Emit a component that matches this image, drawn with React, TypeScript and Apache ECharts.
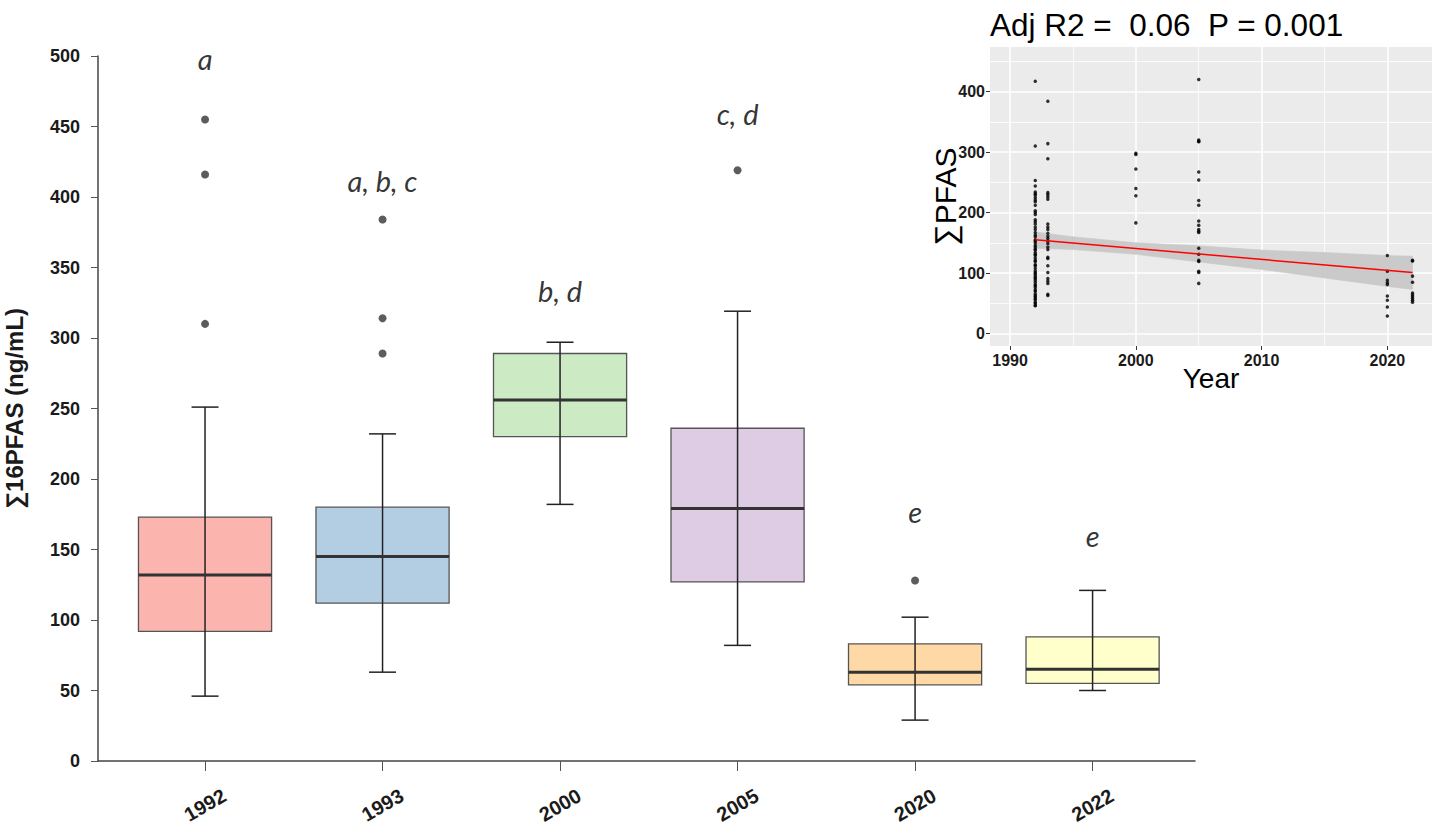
import React, { useEffect, useRef } from "react";
import * as echarts from "echarts";

// ---------- main box plot data ----------
const years = ["1992", "1993", "2000", "2005", "2020", "2022"];
const boxLow = [46, 63, 182, 82, 29, 50];
const boxQ1 = [92, 112, 230, 127, 54, 55];
const boxMedian = [132, 145, 256, 179, 63, 65];
const boxQ3 = [173, 180, 289, 236, 83, 88];
const boxHigh = [251, 232, 297, 319, 102, 121];
const boxColors = ["#FBB4AE", "#B3CDE3", "#CCEBC5", "#DECBE4", "#FED9A6", "#FFFFCC"];
const outlierGroup = [0, 0, 0, 1, 1, 1, 3, 4];
const outlierValue = [455, 416, 310, 384, 314, 289, 419, 128];
const letterText = ["a", "a, b, c", "b, d", "c, d", "e", "e"];
const letterY = [498, 412, 334, 459, 177, 160];
const mainTickIdx = [0, 1, 2, 3, 4, 5];

// ---------- inset scatter data ----------
const p1992 = [417, 310, 253, 244, 234, 231, 229, 225, 221, 218, 212, 203, 200, 197, 188, 185, 181, 176, 172, 167, 163, 160, 155, 153, 150, 146, 143, 140, 138, 134, 131, 129, 125, 121, 119, 114, 112, 108, 104, 101, 99, 96, 93, 91, 88, 85, 81, 79, 76, 72, 70, 66, 63, 61, 58, 56, 52, 50, 47, 46];
const p1993 = [384, 314, 289, 233, 230, 226, 222, 181, 176, 172, 166, 161, 157, 153, 149, 143, 139, 126, 124, 112, 101, 91, 87, 83, 65, 63];
const p2000 = [298, 296, 272, 240, 228, 183];
const p2005 = [420, 320, 318, 317, 267, 254, 220, 212, 186, 179, 172, 169, 167, 141, 131, 121, 119, 103, 101, 83];
const p2020 = [129, 103, 88, 84, 81, 62, 55, 44, 29];
const p2022 = [121, 120, 95, 85, 67, 64, 61, 58, 55, 52];
const insetGroups: [number, number[]][] = [
  [1992, p1992],
  [1993, p1993],
  [2000, p2000],
  [2005, p2005],
  [2020, p2020],
  [2022, p2022],
];
const fitYears = [1992, 2022];
const fitValues = [155, 101];
const bandYears = [1992, 1995, 2000, 2005, 2010, 2015, 2020, 2022];
const bandLower = [141, 139, 131, 118.5, 106, 92, 78, 73];
const bandUpper = [168, 160, 150, 145, 138, 134, 129, 128];
const insetXMajor = [1990, 2000, 2010, 2020];
const insetXMinor = [1995, 2005, 2015];
const insetYMajor = [0, 100, 200, 300, 400];
const insetYMinor = [50, 150, 250, 350, 450];

export default function App() {
  const ref = useRef<HTMLDivElement>(null);

  useEffect(() => {
    if (!ref.current) return;
    const chart = echarts.init(ref.current, undefined, { renderer: "svg" });

    const boxData = years.map((_, i) => [i, boxLow[i], boxQ1[i], boxMedian[i], boxQ3[i], boxHigh[i]]);
    const outlierData = outlierGroup.map((g, k) => [g, outlierValue[k]]);
    const letterData = letterY.map((v, i) => [i, v]);
    const scatterData: number[][] = [];
    insetGroups.forEach(([yr, vals]) => vals.forEach((v) => scatterData.push([yr, v])));
    const bandSegs = bandYears.slice(0, -1).map((y, i) => [
      y, bandLower[i], bandUpper[i], bandYears[i + 1], bandLower[i + 1], bandUpper[i + 1],
    ]);

    const boldAxisLabel = {
      fontFamily: "Liberation Sans",
      fontWeight: "bold" as const,
      color: "#1a1a1a",
    };

    chart.setOption({
      animation: false,
      backgroundColor: "#ffffff",
      grid: [
        { left: 98, right: 243, top: 56, bottom: 76, outerBoundsMode: "none", containLabel: false },
        {
          left: 990,
          right: 6,
          top: 47,
          bottom: 491,
          show: true,
          backgroundColor: "#EBEBEB",
          borderWidth: 0,
          outerBoundsMode: "none",
          containLabel: false,
        },
      ],
      xAxis: [
        {
          type: "value",
          gridIndex: 0,
          min: -0.603,
          max: 5.577,
          axisLine: { show: true, onZero: false, lineStyle: { color: "#444", width: 1.5 } },
          axisTick: { show: true, customValues: mainTickIdx, length: 10, lineStyle: { color: "#555", width: 1 } },
          axisLabel: {
            ...boldAxisLabel,
            customValues: mainTickIdx,
            formatter: (v: number) => years[Math.round(v)] ?? "",
            rotate: 30,
            align: "center",
            verticalAlign: "middle",
            margin: 44,
            fontSize: 20,
          },
          splitLine: { show: false },
        },
        {
          type: "value",
          gridIndex: 1,
          min: 1988.4,
          max: 2023.55,
          name: "Year",
          nameLocation: "middle",
          nameGap: 18,
          nameMoveOverlap: false,
          nameTextStyle: { fontFamily: "Liberation Sans", fontSize: 28, color: "#000" },
          axisLine: { show: false, onZero: false },
          axisTick: { show: true, customValues: insetXMajor, length: 4, lineStyle: { color: "#333" } },
          axisLabel: {
            ...boldAxisLabel,
            customValues: insetXMajor,
            formatter: (v: number) => String(v),
            fontSize: 16,
            margin: 6,
          },
          splitLine: { show: true, lineStyle: { color: "#ffffff", width: 1.6 } },
        },
        {
          type: "value",
          gridIndex: 1,
          min: 1988.4,
          max: 2023.55,
          axisLine: { show: false, onZero: false },
          axisTick: { show: false, customValues: insetXMinor },
          axisLabel: { show: false, customValues: insetXMinor },
          splitLine: { show: true, lineStyle: { color: "#ffffff", width: 0.8 } },
        },
      ],
      yAxis: [
        {
          type: "value",
          gridIndex: 0,
          min: 0,
          max: 500,
          interval: 50,
          name: "∑16PFAS (ng/mL)",
          nameLocation: "middle",
          nameGap: 72,
          nameMoveOverlap: false,
          nameRotate: 90,
          nameTextStyle: { fontFamily: "Liberation Sans", fontWeight: "bold", fontSize: 24, color: "#1a1a1a" },
          axisLine: { show: true, onZero: false, lineStyle: { color: "#444", width: 1.5 } },
          axisTick: { show: true, length: 7, lineStyle: { color: "#555" } },
          axisLabel: { ...boldAxisLabel, fontSize: 18, margin: 18 },
          splitLine: { show: false },
        },
        {
          type: "value",
          gridIndex: 1,
          min: -20.5,
          max: 473.7,
          name: "∑PFAS",
          nameLocation: "middle",
          nameGap: 30,
          nameMoveOverlap: false,
          nameRotate: 90,
          nameTextStyle: { fontFamily: "Liberation Sans", fontSize: 30, color: "#000" },
          axisLine: { show: false, onZero: false },
          axisTick: { show: true, customValues: insetYMajor, length: 4, lineStyle: { color: "#333" } },
          axisLabel: { ...boldAxisLabel, customValues: insetYMajor, fontSize: 16, margin: 5 },
          splitLine: { show: true, lineStyle: { color: "#ffffff", width: 1.6 } },
        },
        {
          type: "value",
          gridIndex: 1,
          min: -20.5,
          max: 473.7,
          axisLine: { show: false, onZero: false },
          axisTick: { show: false, customValues: insetYMinor },
          axisLabel: { show: false, customValues: insetYMinor },
          splitLine: { show: true, lineStyle: { color: "#ffffff", width: 0.8 } },
        },
      ],
      graphic: [
        {
          type: "text",
          x: 990,
          y: 25,
          style: {
            text: "Adj R2 =  0.06  P = 0.001",
            fontFamily: "Liberation Sans",
            fontSize: 31.5,
            fill: "#000",
            verticalAlign: "middle",
            align: "left",
          },
        },
      ],
      series: [
        {
          type: "custom",
          xAxisIndex: 0,
          yAxisIndex: 0,
          data: boxData,
          encode: { x: 0, y: [1, 2, 3, 4, 5] },
          renderItem: (params: any, api: any) => {
            const i = api.value(0);
            const pLow = api.coord([i, api.value(1)]);
            const pQ1 = api.coord([i, api.value(2)]);
            const pMed = api.coord([i, api.value(3)]);
            const pQ3 = api.coord([i, api.value(4)]);
            const pHigh = api.coord([i, api.value(5)]);
            const band = api.size([1, 0])[0];
            const half = band * 0.375;
            const capHalf = band * 0.076;
            const x = pMed[0];
            return {
              type: "group",
              children: [
                {
                  type: "rect",
                  shape: { x: x - half, y: pQ3[1], width: half * 2, height: pQ1[1] - pQ3[1] },
                  style: { fill: boxColors[i], stroke: "#555", lineWidth: 1.3 },
                },
                {
                  type: "line",
                  shape: { x1: x, y1: pHigh[1], x2: x, y2: pLow[1] },
                  style: { stroke: "#222", lineWidth: 1.5 },
                },
                {
                  type: "line",
                  shape: { x1: x - capHalf, y1: pHigh[1], x2: x + capHalf, y2: pHigh[1] },
                  style: { stroke: "#222", lineWidth: 1.5 },
                },
                {
                  type: "line",
                  shape: { x1: x - capHalf, y1: pLow[1], x2: x + capHalf, y2: pLow[1] },
                  style: { stroke: "#222", lineWidth: 1.5 },
                },
                {
                  type: "line",
                  shape: { x1: x - half, y1: pMed[1], x2: x + half, y2: pMed[1] },
                  style: { stroke: "#333", lineWidth: 3 },
                },
              ],
            };
          },
        },
        {
          type: "scatter",
          xAxisIndex: 0,
          yAxisIndex: 0,
          data: outlierData,
          symbolSize: 8,
          itemStyle: { color: "#333" },
        },
        {
          type: "scatter",
          xAxisIndex: 0,
          yAxisIndex: 0,
          data: letterData,
          symbolSize: 1,
          itemStyle: { color: "rgba(0,0,0,0)" },
          label: {
            show: true,
            position: "inside",
            formatter: (p: any) => letterText[p.dataIndex],
            fontFamily: "Lato",
            fontStyle: "italic",
            fontSize: 29,
            color: "#000",
          },
        },
        {
          type: "custom",
          xAxisIndex: 1,
          yAxisIndex: 1,
          data: bandSegs,
          encode: { x: [0, 3], y: [1, 2, 4, 5] },
          renderItem: (params: any, api: any) => {
            const a = api.coord([api.value(0), api.value(2)]);
            const b = api.coord([api.value(3), api.value(5)]);
            const c = api.coord([api.value(3), api.value(4)]);
            const d = api.coord([api.value(0), api.value(1)]);
            return {
              type: "polygon",
              shape: { points: [a, b, c, d] },
              style: { fill: "#CACACA", stroke: "#CACACA", lineWidth: 0.6 },
            };
          },
        },
        {
          type: "scatter",
          xAxisIndex: 1,
          yAxisIndex: 1,
          data: scatterData,
          symbolSize: 3.5,
          itemStyle: { color: "#000" },
        },
        {
          type: "line",
          xAxisIndex: 1,
          yAxisIndex: 1,
          data: fitYears.map((y, i) => [y, fitValues[i]]),
          symbol: "none",
          lineStyle: { color: "#FF0000", width: 1.5 },
        },
      ],
    });

    return () => chart.dispose();
  }, []);

  return (
    <div
      ref={ref}
      style={{ position: "fixed", left: 0, top: 0, width: 1438, height: 837, background: "#fff" }}
    />
  );
}
